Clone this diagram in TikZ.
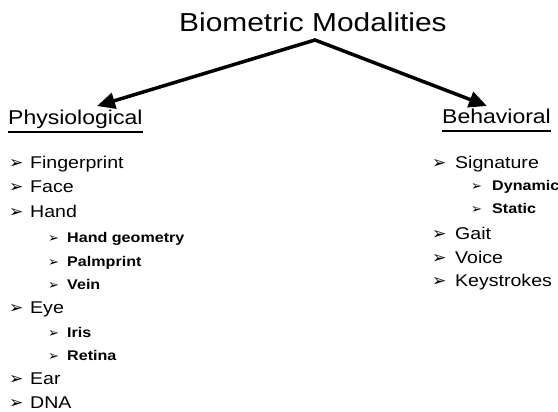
\documentclass[tikz,border=0pt]{standalone}
\usepackage{fontspec}
\setmainfont{Liberation Sans}[FakeStretch=1.15]
\newfontfamily\bulfont{DejaVu Sans}
\usetikzlibrary{arrows.meta}
\newcommand\mybul[2]{\makebox[#1][l]{\bulfont\fontsize{#2}{#2}\selectfont ➢}}
\begin{document}
\begin{tikzpicture}[x=1pt,y=-1pt,
  titlestyle/.style={anchor=base, inner sep=0pt, font=\fontsize{26}{30}\selectfont},
  headstyle/.style={anchor=base west, inner sep=0pt, font=\fontsize{20}{24}\selectfont},
  mainitem/.style={anchor=base west, inner sep=0pt, font=\fontsize{17}{20}\selectfont},
  subitem/.style={anchor=base west, inner sep=0pt, font=\bfseries\fontsize{14}{17}\selectfont},
  conn/.style={line width=3.5pt, line join=miter, {Triangle[length=18pt,width=16pt]}-{Triangle[length=18pt,width=16pt]}},
  uline/.style={line width=1.2pt}]
\useasboundingbox (0,0) rectangle (558,412);
\node[titlestyle] (title) at (313,32) {Biometric Modalities};
\coordinate (apex) at (315,40);
\coordinate (ltip) at (97,106);
\coordinate (rtip) at (487,106);
\draw[conn] (ltip) -- (apex) -- (rtip);
\node[headstyle] (phys) at (8,125) {Physiological};
\node[headstyle] (behav) at (442,124) {Behavioral};
\draw[uline] ([yshift=-7pt]phys.base west) -- ([yshift=-7pt]phys.base east);
\draw[uline] ([yshift=-7pt]behav.base west) -- ([yshift=-7pt]behav.base east);
% left list
\node[mainitem] (fp) at (9,168) {\mybul{21pt}{17}Fingerprint};
\node[mainitem] (face) at (9,193) {\mybul{21pt}{17}Face};
\node[mainitem] (hand) at (9,218) {\mybul{21pt}{17}Hand};
\node[subitem] (hg) at (48,242) {\mybul{19pt}{13}Hand geometry};
\node[subitem] (palm) at (48,266) {\mybul{19pt}{13}Palmprint};
\node[subitem] (vein) at (48,289) {\mybul{19pt}{13}Vein};
\node[mainitem] (eye) at (9,313) {\mybul{21pt}{17}Eye};
\node[subitem] (iris) at (48,337) {\mybul{19pt}{13}Iris};
\node[subitem] (ret) at (48,360) {\mybul{19pt}{13}Retina};
\node[mainitem] (ear) at (9,384) {\mybul{21pt}{17}Ear};
\node[mainitem] (dna) at (9,408) {\mybul{21pt}{17}DNA};
% right list
\node[mainitem] (sig) at (432,168) {\mybul{23pt}{17}Signature};
\node[subitem] (dyn) at (471,191) {\mybul{21pt}{13}Dynamic};
\node[subitem] (stat) at (471,214) {\mybul{21pt}{13}Static};
\node[mainitem] (gait) at (432,240) {\mybul{23pt}{17}Gait};
\node[mainitem] (voice) at (432,263) {\mybul{23pt}{17}Voice};
\node[mainitem] (keys) at (432,287) {\mybul{23pt}{17}Keystrokes};
\end{tikzpicture}
\end{document}
